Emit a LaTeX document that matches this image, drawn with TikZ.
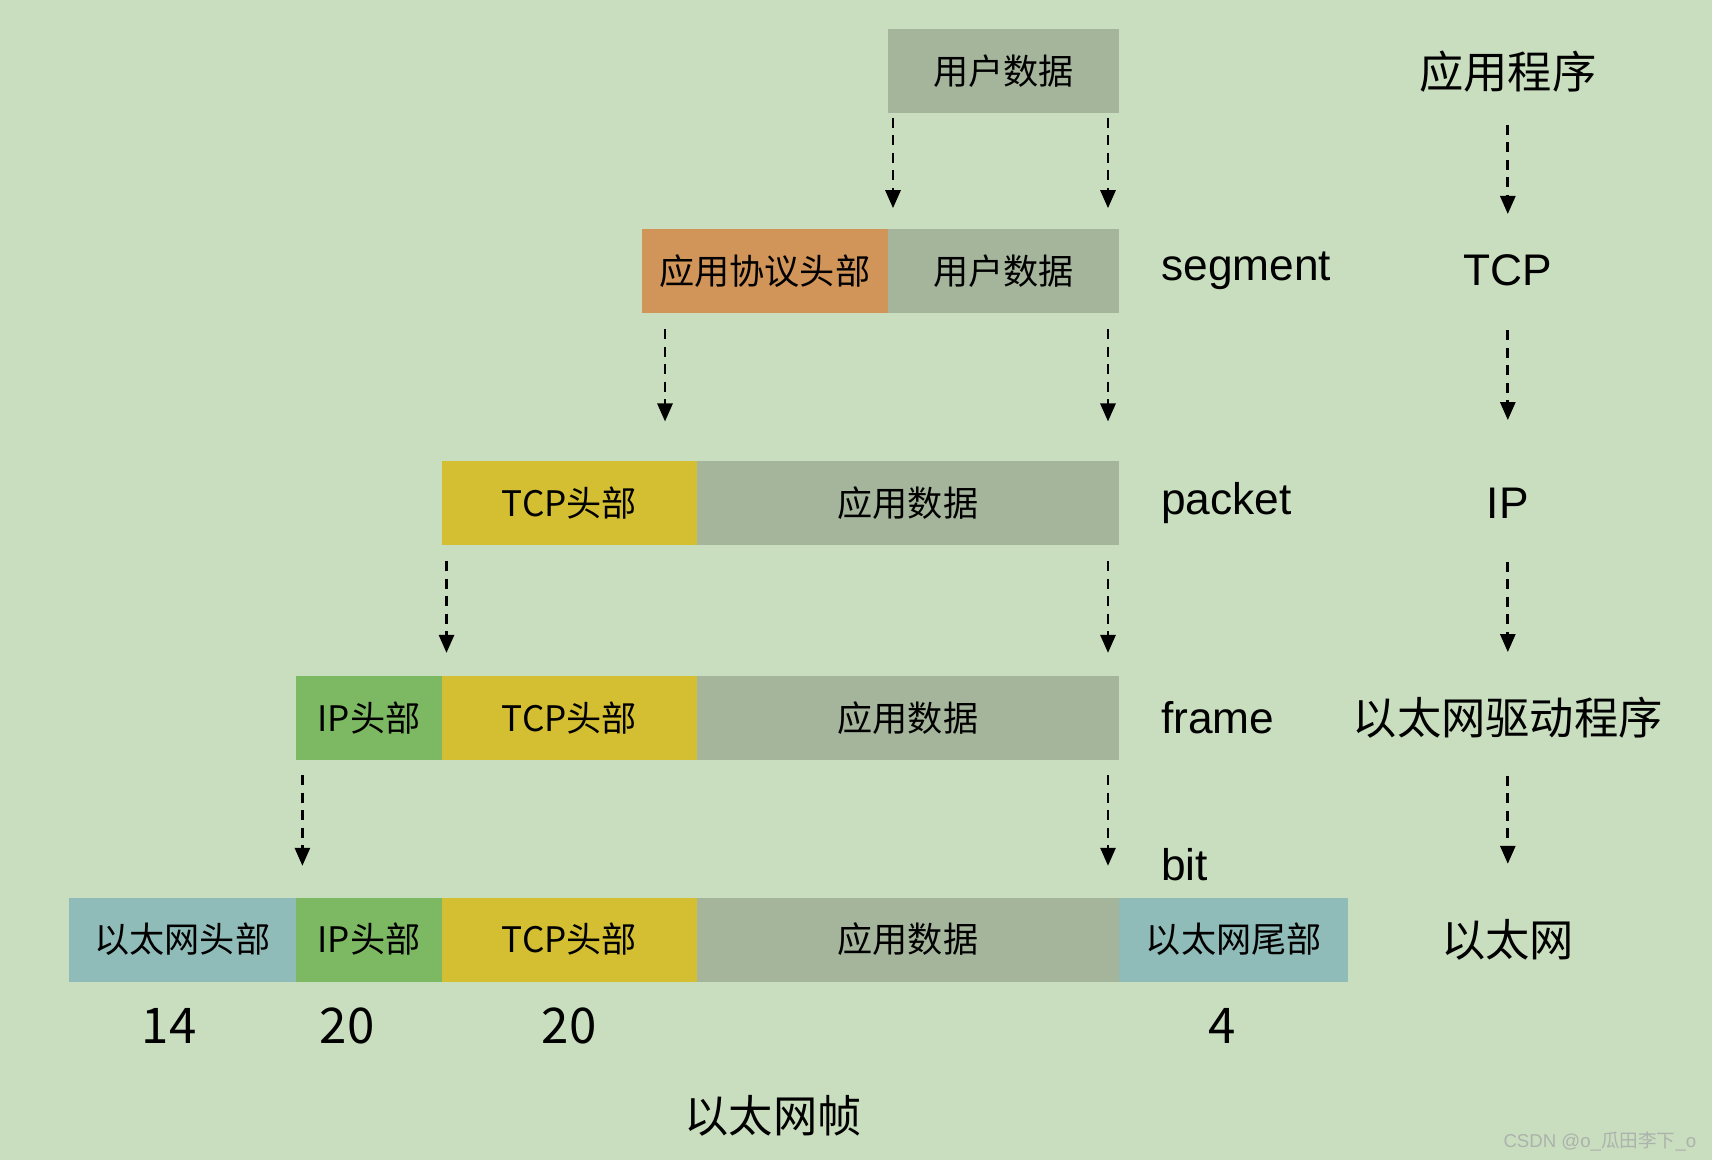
\documentclass[tikz,border=0pt]{standalone}
\usepackage{fontspec}
\setmainfont{Liberation Sans}
\newfontfamily\cjk{Noto Sans CJK SC}
\usetikzlibrary{arrows.meta,positioning}
\definecolor{bgc}{RGB}{201,222,191}
\definecolor{datac}{RGB}{164,181,155}
\definecolor{appc}{RGB}{209,148,89}
\definecolor{tcpc}{RGB}{212,190,50}
\definecolor{ipc}{RGB}{125,184,98}
\definecolor{ethc}{RGB}{143,187,184}
\definecolor{markc}{RGB}{172,178,172}

\begin{document}
\begin{tikzpicture}[node distance=0pt, >={Triangle[length=1.8mm,width=1.5mm]},
    box/.style={minimum height=0.84cm, inner sep=0pt, outer sep=0pt,
      font=\cjk\fontsize{10}{12}\selectfont},
    flow/.style={->, dash pattern=on 1mm off 0.75mm, line width=0.8pt},
    unit/.style={anchor=west, inner sep=0pt, font=\fontsize{12.6}{15}\selectfont},
    layer/.style={minimum height=0.84cm, inner sep=0pt, font=\fontsize{12.6}{15}\selectfont},
    num/.style={inner sep=0pt, font=\cjk\fontsize{14}{16}\selectfont}]
\fill[bgc] (0,0) rectangle (17.12,11.60);
\useasboundingbox (0,0) rectangle (17.12,11.60);
% application data
\node[box, fill=datac, minimum width=2.315cm, anchor=west] (ud1) at (8.876,10.885) {用户数据};
% segment
\node[box, fill=appc, minimum width=2.456cm, anchor=west] (ah2) at (6.420,8.893) {应用协议头部};
\node[box, fill=datac, minimum width=2.315cm, right=of ah2] (ud2) {用户数据};
% packet
\node[box, fill=tcpc, minimum width=2.544cm, anchor=west] (th3) at (4.422,6.572) {TCP头部};
\node[box, fill=datac, minimum width=4.225cm, right=of th3] (ad3) {应用数据};
% frame
\node[box, fill=ipc, minimum width=1.463cm, anchor=west] (ip4) at (2.959,4.422) {IP头部};
\node[box, fill=tcpc, minimum width=2.544cm, right=of ip4] (th4) {TCP头部};
\node[box, fill=datac, minimum width=4.225cm, right=of th4] (ad4) {应用数据};
% ethernet frame
\node[box, fill=ethc, minimum width=2.271cm, anchor=west] (eh5) at (0.688,2.205) {以太网头部};
\node[box, fill=ipc, minimum width=1.463cm, right=of eh5] (ip5) {IP头部};
\node[box, fill=tcpc, minimum width=2.544cm, right=of ip5] (th5) {TCP头部};
\node[box, fill=datac, minimum width=4.225cm, right=of th5] (ad5) {应用数据};
\node[box, fill=ethc, minimum width=2.293cm, right=of ad5] (et5) {以太网尾部};
% sizes
\node[num] (n14) at (1.69,1.34) {14};
\node[num] (n20a) at (3.47,1.34) {20};
\node[num] (n20b) at (5.69,1.34) {20};
\node[num] (n4) at (12.22,1.34) {4};
\node[inner sep=0pt, font=\cjk\fontsize{12.6}{15}\selectfont] (frm) at (7.73,0.44) {以太网帧};
% unit names
\node[unit] (seg) at (11.606,8.893) {segment};
\node[unit] (pkt) at (11.606,6.572) {packet};
\node[unit] (frame) at (11.606,4.422) {frame};
\node[unit] (bit) at (11.606,2.953) {bit};
% layers
\node[layer, font=\cjk\fontsize{12.6}{15}\selectfont] (app) at (15.078,10.885) {应用程序};
\node[layer] (tcp) at (15.078,8.893) {TCP};
\node[layer] (ip) at (15.078,6.572) {IP};
\node[layer, font=\cjk\fontsize{12.6}{15}\selectfont] (drv) at (15.078,4.422) {以太网驱动程序};
\node[layer, font=\cjk\fontsize{12.6}{15}\selectfont] (eth) at (15.078,2.205) {以太网};
\node[anchor=east, inner sep=0pt, text=markc, font=\fontsize{5.3}{7}\selectfont] (mark) at (16.97,0.18) {CSDN @o\_{\cjk 瓜田李下}\_o};
% encapsulation arrows
\draw[flow, shorten <=0.045cm, shorten >=0.205cm] ([xshift=0.054cm]ud1.south west) -- ([xshift=0.054cm]ud1.south west |- ah2.north);
\draw[flow, shorten <=0.045cm, shorten >=0.205cm] ([xshift=-0.111cm]ud1.south east) -- ([xshift=-0.111cm]ud1.south east |- ud2.north);
\draw[flow, shorten <=0.164cm, shorten >=0.393cm] ([xshift=0.23cm]ah2.south west) -- ([xshift=0.23cm]ah2.south west |- th3.north);
\draw[flow, shorten <=0.164cm, shorten >=0.393cm] ([xshift=-0.111cm]ud2.south east) -- ([xshift=-0.111cm]ud2.south east |- ad3.north);
\draw[flow, shorten <=0.164cm, shorten >=0.229cm] ([xshift=0.043cm]th3.south west) -- ([xshift=0.043cm]th3.south west |- ip4.north);
\draw[flow, shorten <=0.164cm, shorten >=0.229cm] ([xshift=-0.111cm]ad3.south east) -- ([xshift=-0.111cm]ad3.south east |- ad4.north);
\draw[flow, shorten <=0.153cm, shorten >=0.317cm] ([xshift=0.065cm]ip4.south west) -- ([xshift=0.065cm]ip4.south west |- eh5.north);
\draw[flow, shorten <=0.153cm, shorten >=0.317cm] ([xshift=-0.111cm]ad4.south east) -- ([xshift=-0.111cm]ad4.south east |- ad5.north);
% layer arrows
\draw[flow, shorten <=0.106cm, shorten >=0.14cm] (app) -- (tcp);
\draw[flow, shorten <=0.17cm, shorten >=0.40cm] (tcp) -- (ip);
\draw[flow, shorten <=0.16cm, shorten >=0.23cm] (ip) -- (drv);
\draw[flow, shorten <=0.15cm, shorten >=0.33cm] (drv) -- (eth);
\end{tikzpicture}
\end{document}
